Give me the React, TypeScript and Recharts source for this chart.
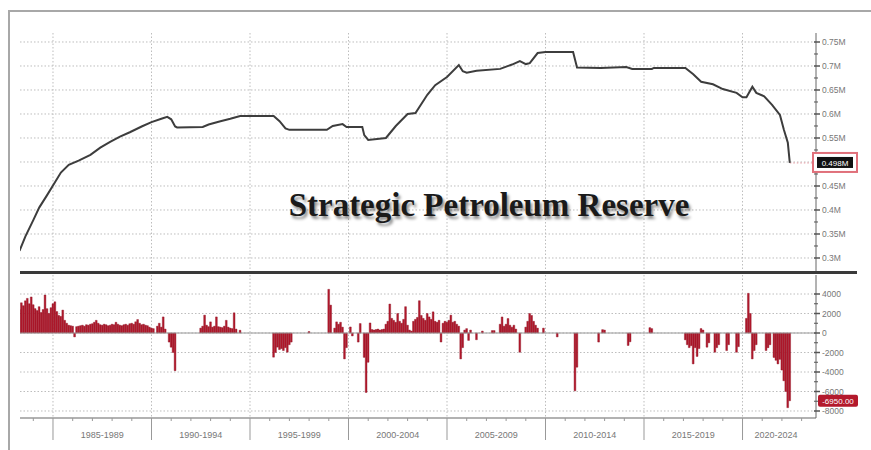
import React from "react";
import {
  LineChart,
  Line,
  BarChart,
  Bar,
  XAxis,
  YAxis,
  CartesianGrid,
  ReferenceLine,
} from "recharts";

// SPR level, million barrels
const reserveYears = [
  1983.3, 1983.6, 1984.0, 1984.3, 1984.7, 1985.1, 1985.4, 1985.8, 1986.3, 1986.9,
  1987.4, 1987.9, 1988.4, 1988.9, 1989.5, 1990.0, 1990.5, 1990.8, 1991.0, 1991.2,
  1991.3, 1992.6, 1992.9, 1993.5, 1994.0, 1994.5, 1996.2, 1996.5, 1996.8, 1997.0,
  1998.9, 1999.2, 1999.7, 1999.9, 2000.7, 2000.8, 2001.0, 2001.9, 2002.4, 2003.0,
  2003.4, 2004.0, 2004.4, 2005.0, 2005.6, 2005.8, 2006.0, 2006.5, 2007.7, 2008.3,
  2008.7, 2009.0, 2009.2, 2009.6, 2010.0, 2011.4, 2011.6, 2012.8, 2014.1, 2014.4,
  2015.4, 2015.5, 2017.1, 2017.5, 2017.9, 2018.5, 2019.0, 2019.7, 2020.0, 2020.2,
  2020.5, 2020.7, 2021.1, 2021.5, 2021.9, 2022.1, 2022.3, 2022.4,
];
const reserveLevels = [
  0.315, 0.345, 0.379, 0.405, 0.431, 0.458, 0.478, 0.494, 0.503, 0.515,
  0.53, 0.542, 0.553, 0.562, 0.574, 0.583, 0.59, 0.594, 0.589, 0.574,
  0.572, 0.573, 0.578, 0.585, 0.59, 0.596, 0.596, 0.585, 0.57, 0.567,
  0.567, 0.575, 0.579, 0.573, 0.573, 0.556, 0.546, 0.55, 0.575, 0.6,
  0.602, 0.64, 0.66, 0.677, 0.702, 0.689, 0.686, 0.69, 0.694, 0.703,
  0.71, 0.704, 0.706, 0.727, 0.729, 0.729, 0.697, 0.696, 0.698, 0.694,
  0.694, 0.696, 0.696, 0.683, 0.667, 0.662, 0.652, 0.644, 0.635, 0.635,
  0.657, 0.644, 0.637, 0.619, 0.598, 0.567, 0.54, 0.498,
];

// weekly change, thousand barrels
const changeYears = [
  1983.3, 1983.4, 1983.5, 1983.6, 1983.7, 1983.8, 1983.9, 1984.0, 1984.1, 1984.2,
  1984.3, 1984.4, 1984.5, 1984.6, 1984.7, 1984.8, 1984.9, 1985.0, 1985.1, 1985.2,
  1985.3, 1985.4, 1985.5, 1985.6, 1985.7,
  1985.8, 1985.9, 1986.0, 1986.1, 1986.2, 1986.3, 1986.4, 1986.5, 1986.6, 1986.7,
  1986.8, 1986.9, 1987.0, 1987.1, 1987.2, 1987.3, 1987.4, 1987.5, 1987.6, 1987.7,
  1987.8, 1987.9, 1988.0, 1988.1, 1988.2, 1988.3, 1988.4, 1988.5, 1988.6, 1988.7,
  1988.8, 1988.9, 1989.0, 1989.1, 1989.2, 1989.3, 1989.4, 1989.5, 1989.6, 1989.7,
  1989.8, 1989.9, 1990.0, 1990.1,
  1990.3, 1990.4, 1990.5, 1990.6, 1990.7, 1990.9, 1991.0, 1991.1, 1991.2,
  1992.5, 1992.6, 1992.7, 1992.8, 1992.9, 1993.0, 1993.1, 1993.2, 1993.3, 1993.4,
  1993.5, 1993.6, 1993.7, 1993.8, 1993.9, 1994.0, 1994.1, 1994.2, 1994.3, 1994.5,
  1996.2, 1996.3, 1996.4, 1996.5, 1996.6, 1996.7, 1996.8, 1996.9, 1997.0, 1997.1,
  1998.0, 1999.0, 1999.1, 1999.3, 1999.4, 1999.5, 1999.6, 1999.7, 1999.8, 1999.9,
  2000.1, 2000.2, 2000.5, 2000.6, 2000.8, 2000.9, 2001.0, 2001.1, 2001.2, 2001.3,
  2001.4, 2001.5, 2001.6, 2001.7, 2001.8,
  2001.9, 2002.0, 2002.1, 2002.2, 2002.3, 2002.4, 2002.5, 2002.6, 2002.7, 2002.8,
  2002.9, 2003.0, 2003.1, 2003.2,
  2003.3, 2003.4, 2003.5, 2003.6, 2003.7, 2003.8, 2003.9, 2004.0, 2004.1, 2004.2,
  2004.3, 2004.4, 2004.5, 2004.6, 2004.7, 2004.8, 2004.9, 2005.0, 2005.1, 2005.2,
  2005.3, 2005.4, 2005.5, 2005.6,
  2005.7, 2005.8, 2005.9, 2006.0, 2006.1, 2006.2, 2006.5, 2006.8, 2007.3, 2007.4,
  2007.7, 2007.8, 2007.9, 2008.0, 2008.1, 2008.2, 2008.3, 2008.4, 2008.5, 2008.7,
  2009.0, 2009.1, 2009.2, 2009.3, 2009.4, 2009.5, 2009.6, 2009.9,
  2010.6, 2011.5, 2011.6, 2012.7, 2012.9, 2013.0, 2014.2, 2014.3, 2015.3, 2015.4,
  2017.1, 2017.2, 2017.3, 2017.4, 2017.5, 2017.6, 2017.7, 2017.8, 2017.9, 2018.0,
  2018.2, 2018.3, 2018.6, 2018.7, 2018.8, 2019.2, 2019.3, 2019.7, 2019.8,
  2020.2, 2020.3, 2020.4, 2020.5, 2020.6, 2020.7, 2021.2, 2021.3, 2021.4, 2021.6,
  2021.7, 2021.8, 2021.9, 2022.0, 2022.1, 2022.2, 2022.3, 2022.4,
];
const changeValues = [
  2400, 3100, 2800, 3300, 3550, 3000, 3700, 2900, 2500, 2300,
  2700, 2100, 2400, 3900, 2500, 2000, 2600, 3000, 3200, 2200,
  1800, 1700, 2350, 1300, 1000,
  800, 750, 700, -400, 650, 700, 750, 800, 700, 850,
  800, 900, 950, 1100, 1300, 1000, 850, 800, 900, 850,
  750, 800, 900, 850, 1100, 900, 800, 750, 850, 900,
  800, 950, 1000, 900, 1150, 1380, 1000, 850, 900, 800,
  750, 600, 500, 450,
  700, 1000, 600, 1650, 400, -930, -1450, -2000, -3860,
  500, 700, 1830, 800, 650, 1140, 600, 700, 1650, 650,
  600, 550, 700, 1300, 600, 500, 450, 2070, 400, 280,
  -2480, -2000, -1450, -1700, -1600, -1800, -1500, -1970, -1200, -930,
  150, 4480, 2860, 500, 1140, 900, 1100, 600, -2660, -1500,
  620, -300, -930, 970, -2500, -6100, -3000, 1035, 350, 300,
  350, 400, 300, 350, 400,
  900, 1200, 2970, 1500, 1300, 1100, 2000, 1200, 1000, 1400,
  2700, 800, 300, 200,
  1200, 1400, 1600, 3310, 1800, 1500, 1300, 2000, 1650, 1400,
  2170, 1200, 1100, 1300, -930, 1000, 1200, 1100, 1300, 1830,
  1100, 1200, 900, 700,
  -2660, -1500, 300, 450, -760, 300, -690, 200, 250, 250,
  900, 1650, 700, 900, 1480, 800, 600, 800, 400, -1970,
  600, 1200, 2000, 1800, 1200, 800, 500, 500,
  -400, -5930, -3500, -930, 345, 300, -1280, -900, 550, 450,
  -700, -1200, -1500, -1300, -3170, -1500, -2400, -1600, 450, 300,
  -1450, -1000, -1970, -1500, -1200, -1800, -1200, -1970, -1400,
  1500, 4070, 2000, -2660, -1800, -1200, -1800, -1500, -1200, -2500,
  -2800, -3170, -2700, -3800, -4900, -6000, -7660, -6950,
];

const levelTicks = [
  0.3, 0.325, 0.35, 0.375, 0.4, 0.425, 0.45, 0.475, 0.5, 0.525,
  0.55, 0.575, 0.6, 0.625, 0.65, 0.675, 0.7, 0.725, 0.75,
];
const levelGrid = [0.3, 0.35, 0.4, 0.45, 0.5, 0.55, 0.6, 0.65, 0.7, 0.75];
const changeTicks = [
  -8000, -7000, -6000, -5000, -4000, -3000, -2000, -1000, 0, 1000, 2000, 3000, 4000,
];
const changeGrid = [-8000, -6000, -4000, -2000, 0, 2000, 4000];
const yearTicks = [
  1984, 1985, 1986, 1987, 1988, 1989, 1990, 1991, 1992, 1993, 1994, 1995, 1996,
  1997, 1998, 1999, 2000, 2001, 2002, 2003, 2004, 2005, 2006, 2007, 2008, 2009,
  2010, 2011, 2012, 2013, 2014, 2015, 2016, 2017, 2018, 2019, 2020, 2021, 2022, 2023,
];
const periodStarts = [1985, 1990, 1995, 2000, 2005, 2010, 2015, 2020];
const periodLabels = [
  "1985-1989", "1990-1994", "1995-1999", "2000-2004",
  "2005-2009", "2010-2014", "2015-2019", "2020-2024",
];
const periodLabelYears = [1987.5, 1992.5, 1997.5, 2002.5, 2007.5, 2012.5, 2017.5, 2021.7];

const X_DOMAIN = [1983.325, 2023.73];
const title = "Strategic Petroleum Reserve";

const lastLevel = reserveLevels[reserveLevels.length - 1];
const lastChange = changeValues[changeValues.length - 1];

const levelData = reserveYears.map((year, i) => ({ year, level: reserveLevels[i] }));
const changeData = changeYears.map((year, i) => ({ year, change: changeValues[i] }));

const AXIS_FONT = "'Liberation Sans', Arial, sans-serif";
const GRID = "#bdbdbd";

const LevelTick = (props: any) => {
  const { x, y, payload } = props;
  const v = payload.value;
  if (v === lastLevel) {
    return (
      <g>
        <rect x={x - 3} y={y - 10} width={44} height={19} fill="#fff" stroke="#e0707a" strokeWidth={2} />
        <rect x={x + 1} y={y - 6} width={36} height={11} fill="#111" />
        <text x={x + 19} y={y + 3} textAnchor="middle" fontSize={8} fill="#fff" fontFamily={AXIS_FONT}>
          {lastLevel.toFixed(3)}M
        </text>
      </g>
    );
  }
  const major = Math.abs(v * 20 - Math.round(v * 20)) < 1e-6;
  return (
    <g>
      <line x1={x - 2} x2={x + (major ? 4 : 2)} y1={y} y2={y} stroke="#555" strokeWidth={major ? 1.5 : 1} />
      {major && v !== 0.5 && (
        <text x={x + 6} y={y + 3} fontSize={8.5} fill="#777" fontFamily={AXIS_FONT}>
          {`${+v.toFixed(2)}M`}
        </text>
      )}
    </g>
  );
};

const ChangeTick = (props: any) => {
  const { x, y, payload } = props;
  const v = payload.value;
  if (v === lastChange) {
    return (
      <g>
        <rect x={x + 2} y={y - 6} width={40} height={12} rx={2} fill="#b3192c" />
        <text x={x + 22} y={y + 3} textAnchor="middle" fontSize={8} fill="#fff" fontFamily={AXIS_FONT}>
          {lastChange.toFixed(2)}
        </text>
      </g>
    );
  }
  const major = v % 2000 === 0;
  return (
    <g>
      <line x1={x - 2} x2={x + (major ? 4 : 2)} y1={y} y2={y} stroke="#555" strokeWidth={major ? 1.5 : 1} />
      {major && (
        <text x={x + 6} y={y + 3} fontSize={8.5} fill="#777" fontFamily={AXIS_FONT}>
          {v}
        </text>
      )}
    </g>
  );
};

const YearTick = (props: any) => {
  const { x, y, payload } = props;
  const v = payload.value;
  const idx = periodLabelYears.indexOf(v);
  if (idx >= 0) {
    return (
      <text x={x} y={y + 20} textAnchor="middle" fontSize={9} fill="#777" fontFamily={AXIS_FONT}>
        {periodLabels[idx]}
      </text>
    );
  }
  const major = periodStarts.includes(v);
  return <line x1={x} x2={x} y1={y} y2={y + (major ? 22 : 3)} stroke="#999" strokeWidth={1} />;
};

const App = () => {
  return (
    <div style={{ position: "absolute", left: 0, top: 0, width: 871, height: 450, background: "#fff", overflow: "hidden" }}>
      <div
        style={{
          position: "absolute",
          left: 8,
          top: 10,
          width: 863,
          height: 440,
          borderTop: "2px solid #a8a8a8",
          borderLeft: "2px solid #a8a8a8",
          boxSizing: "border-box",
        }}
      />
      <div style={{ position: "absolute", left: 0, top: 0 }}>
        <LineChart width={871} height={272} data={levelData} margin={{ top: 33, right: 0, bottom: 0, left: 20 }}>
          <CartesianGrid
            stroke={GRID}
            strokeDasharray="1.5 2"
            horizontalValues={levelGrid}
            verticalValues={periodStarts}
          />
          <XAxis type="number" dataKey="year" domain={X_DOMAIN} allowDataOverflow hide ticks={periodStarts} />
          <YAxis
            orientation="right"
            type="number"
            domain={[0.27083, 0.76875]}
            allowDataOverflow
            width={55}
            ticks={[...levelTicks, lastLevel]}
            interval={0}
            tick={<LevelTick />}
            tickLine={false}
            tickSize={0}
            tickMargin={0}
            axisLine={{ stroke: "#666" }}
          />
          <ReferenceLine
            segment={[
              { x: reserveYears[reserveYears.length - 1], y: lastLevel },
              { x: X_DOMAIN[1], y: lastLevel },
            ]}
            stroke="#e79aa2"
            strokeDasharray="1.5 2"
          />
          <Line
            type="linear"
            dataKey="level"
            stroke="#3d3d3d"
            strokeWidth={2}
            dot={false}
            isAnimationActive={false}
          />
        </LineChart>
      </div>
      <div style={{ position: "absolute", left: 20, top: 271, width: 837, height: 3, background: "#3a3a3a" }} />
      <div style={{ position: "absolute", left: 0, top: 275 }}>
        <BarChart
          width={871}
          height={175}
          data={changeData}
          barCategoryGap={0}
          barGap={0}
          margin={{ top: 0, right: 0, bottom: 0, left: 20 }}
        >
          <CartesianGrid
            stroke={GRID}
            strokeDasharray="1.5 2"
            horizontalValues={changeGrid}
            verticalValues={periodStarts}
          />
          <XAxis
            type="number"
            dataKey="year"
            domain={X_DOMAIN}
            allowDataOverflow
            height={32}
            ticks={[...yearTicks, ...periodLabelYears]}
            interval={0}
            tick={<YearTick />}
            tickLine={false}
            tickSize={0}
            tickMargin={0}
            axisLine={{ stroke: "#999", strokeWidth: 1.5 }}
          />
          <YAxis
            orientation="right"
            type="number"
            domain={[-8718, 5949]}
            allowDataOverflow
            width={55}
            ticks={[...changeTicks, lastChange]}
            interval={0}
            tick={<ChangeTick />}
            tickLine={false}
            tickSize={0}
            tickMargin={0}
            axisLine={{ stroke: "#666" }}
          />
          <ReferenceLine y={0} stroke="#9a9a9a" />
          <Bar
            dataKey="change"
            fill="#b3192c"
            stroke="#8c1020"
            strokeWidth={0.4}
            barSize={2.4}
            isAnimationActive={false}
          />
        </BarChart>
      </div>
      <div
        style={{
          position: "absolute",
          left: 0,
          width: 978,
          top: 189,
          textAlign: "center",
          fontFamily: "'Liberation Serif', 'Times New Roman', serif",
          fontWeight: "bold",
          fontSize: 33,
          lineHeight: "33px",
          color: "#1a1a1a",
          textShadow: "2px 3px 3px rgba(0,0,0,0.45)",
          whiteSpace: "nowrap",
        }}
      >
        {title}
      </div>
    </div>
  );
};

export default App;
